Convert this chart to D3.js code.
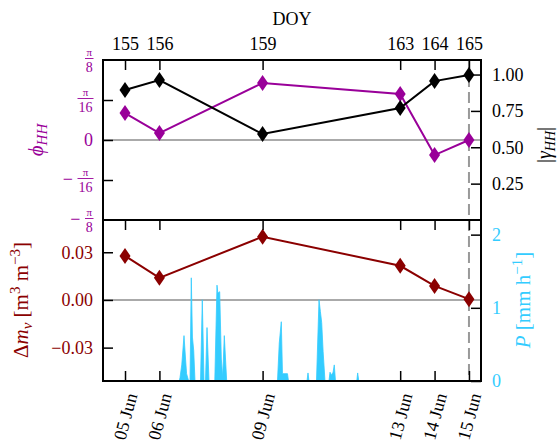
<!DOCTYPE html>
<html>
<head>
<meta charset="utf-8">
<script src="https://cdn.jsdelivr.net/npm/d3@7"></script>
<style>
  body { margin: 0; background: #fff; }
  svg text { font-family: "Liberation Serif", serif; }
</style>
</head>
<body>
<div id="chart"></div>
<script>
// data
var doy = [155, 156, 159, 163, 164, 165];
var dateLabels = ["05 Jun", "06 Jun", "09 Jun", "13 Jun", "14 Jun", "15 Jun"];
var phiHH = [0.132, 0.034, 0.280, 0.226, -0.074, 0.000];
var gammaHH = [0.894, 0.962, 0.591, 0.770, 0.955, 0.997];
var deltaMv = [0.0277, 0.0139, 0.0398, 0.0215, 0.0088, 0.0005];
var gammaTicks = [0.25, 0.50, 0.75, 1.00];
var mvTicks = [-0.03, 0.00, 0.03];
var pTicks = [0, 1, 2];

// hourly precipitation, only the rainy spells (DOY, mm/h)
var precipDoy = [156.58, 156.60, 156.65, 156.715, 156.76, 156.79, 156.85,
  156.89, 156.927, 156.96, 156.997, 157.035,
  157.195, 157.247, 157.297,
  157.34, 157.384, 157.442,
  157.61, 157.674, 157.70, 157.753, 157.80, 157.84, 157.887, 157.956,
  159.433, 159.485, 159.544, 159.578, 159.65, 159.724, 159.753,
  160.291, 160.32, 160.349,
  160.567, 160.64, 160.68, 160.718, 160.76, 160.814,
  160.93, 160.96, 161.00, 161.05, 161.084, 161.119,
  161.738, 161.764, 161.797];
var precipVal = [0, 0.05, 0.22, 0.62, 0.30, 0.10, 0,
  0, 1.41, 0.60, 0.42, 0,
  0, 1.11, 0,
  0, 0.73, 0,
  0, 1.31, 1.20, 1.22, 0.30, 0.05, 0.62, 0,
  0, 0.52, 0.81, 0.10, 0.10, 0.10, 0,
  0, 0.11, 0,
  0, 1.11, 0.95, 0.80, 0.40, 0,
  0, 0.12, 0.08, 0.12, 0.22, 0,
  0, 0.11, 0];

var purple = "#990099", darkred = "#8b0000", sky = "#33ccff", black = "#000";

var svgWidth = 558, svgHeight = 444;
var left = 103, right = 481;
var top1 = 60, bottom1 = 220, top2 = 220, bottom2 = 381;

var svg = d3.select("#chart").append("svg")
  .attr("width", svgWidth).attr("height", svgHeight);

// scales
var xScale = d3.scaleLinear().domain([154.36, 165.35]).range([left, right]);
var phiScale = d3.scaleLinear().domain([-Math.PI / 8, Math.PI / 8]).range([bottom1, top1]);
var gammaScale = d3.scaleLinear().domain([0, 1.1]).range([bottom1, top1]);
var mvScale = d3.scaleLinear().domain([-0.051, 0.0503]).range([bottom2, top2]);
var pScale = d3.scaleLinear().domain([0, 2.2]).range([bottom2, top2]);

// zero lines
svg.append("line").attr("x1", left).attr("x2", right)
  .attr("y1", phiScale(0)).attr("y2", phiScale(0))
  .attr("stroke", "#aaa").attr("stroke-width", 2);
svg.append("line").attr("x1", left).attr("x2", right)
  .attr("y1", mvScale(0)).attr("y2", mvScale(0))
  .attr("stroke", "#aaa").attr("stroke-width", 2);

// precipitation area
var precip = precipDoy.map((d, i) => [d, precipVal[i]]);
svg.append("path").datum(precip)
  .attr("fill", sky).attr("stroke", sky).attr("stroke-width", 0.8)
  .attr("d", d3.area().x(d => xScale(d[0])).y0(pScale(0)).y1(d => pScale(d[1])));

// dashed marker at last date
svg.append("line").attr("x1", xScale(165)).attr("x2", xScale(165))
  .attr("y1", top1).attr("y2", bottom2)
  .attr("stroke", "#999").attr("stroke-width", 2).attr("stroke-dasharray", "11,5");

var diamond = "M0,-8L5.5,0L0,8L-5.5,0Z";

function drawSeries(vals, yScale, color) {
  var pts = doy.map((d, i) => [xScale(d), yScale(vals[i])]);
  svg.append("path").datum(pts)
    .attr("fill", "none").attr("stroke", color).attr("stroke-width", 2)
    .attr("d", d3.line());
  svg.append("g").selectAll("path").data(pts).enter().append("path")
    .attr("d", diamond).attr("fill", color)
    .attr("transform", d => `translate(${d[0]},${d[1]})`);
}
drawSeries(phiHH, phiScale, purple);
drawSeries(gammaHH, gammaScale, black);
drawSeries(deltaMv, mvScale, darkred);

// axes, ticks pointing inward
function styleAxis(g, color) {
  g.select(".domain").remove();
  g.selectAll(".tick line").attr("stroke", "#000").attr("stroke-width", 1.5);
  g.selectAll(".tick text").attr("fill", color).attr("font-size", 18)
    .attr("font-family", "Liberation Serif, serif");
}

// top DOY axis
svg.append("g").attr("transform", `translate(0,${top1})`)
  .call(d3.axisTop(xScale).tickValues(doy).tickSizeInner(-10).tickSizeOuter(0).tickPadding(10).tickFormat(d3.format("d")))
  .call(g => styleAxis(g, "#000"));

// bottom panel top ticks
svg.append("g").attr("transform", `translate(0,${top2})`)
  .call(d3.axisTop(xScale).tickValues(doy).tickSizeInner(-10).tickSizeOuter(0).tickFormat(""))
  .call(g => styleAxis(g, "#000"));

// bottom date axis
var xBottom = svg.append("g").attr("transform", `translate(0,${bottom2})`)
  .call(d3.axisBottom(xScale).tickValues(doy).tickSizeInner(-10).tickSizeOuter(0).tickFormat((d, i) => dateLabels[i]))
  .call(g => styleAxis(g, "#000"));
xBottom.selectAll(".tick text")
  .attr("text-anchor", "end").attr("dy", "0.35em").attr("y", 0).attr("x", 0)
  .attr("transform", "rotate(-75)");
// centre each rotated label below its tick
xBottom.selectAll(".tick").each(function () {
  var t = d3.select(this).select("text");
  var r = t.node().getBoundingClientRect();
  var cx = this.getCTM().e, topY = 391;
  var dx = cx - (r.left + r.width / 2), dy = topY - r.top;
  t.attr("transform", `translate(${dx},${dy}) rotate(-75)`);
});

// phi axis with fraction labels
var phiTicks = [-Math.PI / 8, -Math.PI / 16, 0, Math.PI / 16, Math.PI / 8];
var phiDen = ["8", "16", "", "16", "8"];
var phiAxis = svg.append("g").attr("transform", `translate(${left},0)`)
  .call(d3.axisLeft(phiScale).tickValues(phiTicks).tickSizeInner(-10).tickSizeOuter(0).tickPadding(10).tickFormat(""))
  .call(g => styleAxis(g, purple));
phiAxis.selectAll(".tick").filter((d, i) => i == 0 || i == 4).select("line").remove();
phiAxis.selectAll(".tick").each(function (d, i) {
  var g = d3.select(this);
  if (phiDen[i] == "") {
    g.append("text").attr("x", -10).attr("dy", "0.32em").attr("text-anchor", "end")
      .attr("fill", purple).attr("font-size", 18).text("0");
    return;
  }
  var w = phiDen[i].length * 7.5;
  var cx = -10 - w / 2;
  g.append("text").attr("x", cx).attr("y", -5).attr("text-anchor", "middle")
    .attr("fill", purple).attr("font-size", 11).text("π");
  g.append("line").attr("x1", cx - w / 2 - 0.5).attr("x2", cx + w / 2 + 0.5)
    .attr("y1", -2).attr("y2", -2).attr("stroke", purple).attr("stroke-width", 0.9);
  g.append("text").attr("x", cx).attr("y", 11).attr("text-anchor", "middle")
    .attr("fill", purple).attr("font-size", 14).text(phiDen[i]);
  if (d < 0) {
    g.append("text").attr("x", cx - w / 2 - 5).attr("y", 4).attr("text-anchor", "end")
      .attr("fill", purple).attr("font-size", 18).text("−");
  }
});

// gamma axis
svg.append("g").attr("transform", `translate(${right},0)`)
  .call(d3.axisRight(gammaScale).tickValues(gammaTicks).tickSizeInner(-10).tickSizeOuter(0).tickPadding(11).tickFormat(d3.format(".2f")))
  .call(g => styleAxis(g, "#000"));

// delta mv axis
svg.append("g").attr("transform", `translate(${left},0)`)
  .call(d3.axisLeft(mvScale).tickValues(mvTicks).tickSizeInner(-10).tickSizeOuter(0).tickPadding(10).tickFormat(d3.format(".2f")))
  .call(g => styleAxis(g, darkred));

// precipitation axis
svg.append("g").attr("transform", `translate(${right},0)`)
  .call(d3.axisRight(pScale).tickValues(pTicks).tickSizeInner(-10).tickSizeOuter(0).tickPadding(11).tickFormat(d3.format("d")))
  .call(g => styleAxis(g, sky));

// frames
svg.append("rect").attr("x", left).attr("y", top1).attr("width", right - left).attr("height", bottom1 - top1)
  .attr("fill", "none").attr("stroke", "#000").attr("stroke-width", 2);
svg.append("rect").attr("x", left).attr("y", top2).attr("width", right - left).attr("height", bottom2 - top2)
  .attr("fill", "none").attr("stroke", "#000").attr("stroke-width", 2);

// axis titles
svg.append("text").attr("x", (left + right) / 2).attr("y", 25).attr("text-anchor", "middle")
  .attr("font-size", 18).text("DOY");

function rotLabel(x, y, color, size, build) {
  var t = svg.append("text").attr("transform", `translate(${x},${y}) rotate(-90)`)
    .attr("text-anchor", "middle").attr("fill", color).attr("font-size", size);
  build(t);
}
rotLabel(43, 140, purple, 21, t => {
  t.append("tspan").attr("font-style", "italic").text("ϕ");
  t.append("tspan").attr("font-style", "italic").attr("font-size", 15).attr("dy", 4).text("HH");
});
rotLabel(551, 145, "#000", 20, t => {
  t.append("tspan").text("|");
  t.append("tspan").attr("font-style", "italic").text("γ");
  t.append("tspan").attr("font-style", "italic").attr("font-size", 14).attr("dy", 4).text("HH");
  t.append("tspan").attr("dy", -4).text("|");
});
rotLabel(28, 300, darkred, 21, t => {
  t.append("tspan").text("Δ");
  t.append("tspan").attr("font-style", "italic").text("m");
  t.append("tspan").attr("font-style", "italic").attr("font-size", 15).attr("dy", 4).text("v");
  t.append("tspan").attr("dy", -4).text(" [m");
  t.append("tspan").attr("font-size", 15).attr("dy", -8).text("3");
  t.append("tspan").attr("dy", 8).text(" m");
  t.append("tspan").attr("font-size", 15).attr("dy", -8).text("−3");
  t.append("tspan").attr("dy", 8).text("]");
});
rotLabel(530, 300, sky, 21, t => {
  t.append("tspan").attr("font-style", "italic").text("P");
  t.append("tspan").text(" [mm h");
  t.append("tspan").attr("font-size", 15).attr("dy", -8).text("−1");
  t.append("tspan").attr("dy", 8).text("]");
});
</script>
</body>
</html>
